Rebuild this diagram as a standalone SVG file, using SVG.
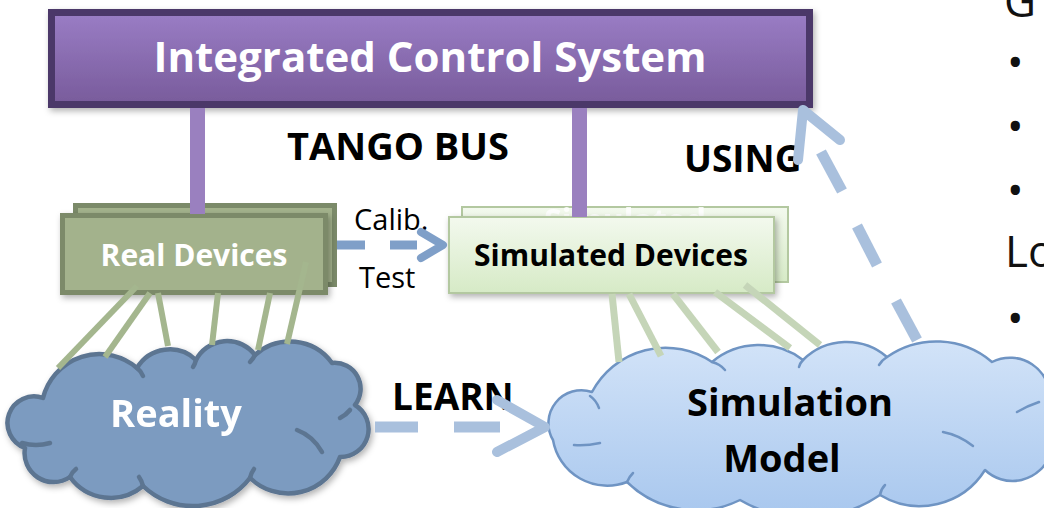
<svg xmlns="http://www.w3.org/2000/svg" width="1044" height="508" viewBox="0 0 1044 508">
  <defs>
    <linearGradient id="gPurple" x1="0" y1="0" x2="0" y2="1">
      <stop offset="0" stop-color="#9a7dc5"/>
      <stop offset="1" stop-color="#785b9b"/>
    </linearGradient>
    <linearGradient id="gSim" x1="0" y1="0" x2="0" y2="1">
      <stop offset="0" stop-color="#f3f9ee"/>
      <stop offset="1" stop-color="#d6eac6"/>
    </linearGradient>
    <linearGradient id="gCloud" x1="0" y1="0" x2="0" y2="1">
      <stop offset="0" stop-color="#d2e3f8"/>
      <stop offset="1" stop-color="#a8c7ee"/>
    </linearGradient>
    <filter id="shadow" x="-10%" y="-10%" width="130%" height="140%">
      <feDropShadow dx="2" dy="3" stdDeviation="3" flood-color="#000" flood-opacity="0.3"/>
    </filter>
  </defs>
  <style>
    .bold { font-family: "Open Sans", "Liberation Sans", sans-serif; font-weight: 700; }
    .reg { font-family: "Open Sans", "Liberation Sans", sans-serif; font-weight: 400; }
    .real { fill: #a3b28c; stroke: #7b8a69; stroke-width: 5; }
    .sim { fill: url(#gSim); stroke: #b3c8a0; stroke-width: 2; }
    .bus { fill: #9a80bf; }
    .tieReal { stroke: #a4b68e; stroke-width: 6; fill: none; }
    .tieSim { stroke: #c5d5b8; stroke-width: 7; fill: none; }
    .dashA { stroke: #7f9fc8; stroke-width: 9; fill: none; }
    .dashB { stroke: #a9c0dd; stroke-width: 11; fill: none; }
    .chevA { stroke: #7f9fc8; stroke-width: 8; fill: none; stroke-linecap: round; stroke-linejoin: round; }
    .chevB { stroke: #a9c0dd; stroke-width: 10; fill: none; stroke-linecap: round; stroke-linejoin: round; }
    .crease { fill: none; stroke-linecap: round; }
  </style>

  <rect width="1044" height="508" fill="#ffffff"/>

  <!-- top controller box -->
  <g id="ics">
    <rect x="51.5" y="12.5" width="758" height="92" fill="url(#gPurple)" stroke="#4b3969" stroke-width="7" filter="url(#shadow)"/>
    <text x="430" y="72" text-anchor="middle" class="bold" font-size="42" fill="#ffffff">Integrated Control System</text>
  </g>

  <!-- hardware device stack -->
  <g id="real-devices">
    <rect x="75.5" y="205.5" width="259" height="79" class="real"/>
    <rect x="62.5" y="215.5" width="263" height="77" class="real" filter="url(#shadow)"/>
    <text x="194" y="266" text-anchor="middle" class="bold" font-size="30" fill="#ffffff">Real Devices</text>
  </g>

  <!-- simulated device stack -->
  <g id="simulated-devices">
    <rect x="462" y="207" width="326" height="75" class="sim"/>
    <text x="625" y="232" text-anchor="middle" class="bold" font-size="32" fill="#ffffff" opacity="0.85">Simulated</text>
    <rect x="449" y="217" width="325" height="76" class="sim" filter="url(#shadow)"/>
    <text x="611" y="266" text-anchor="middle" class="bold" font-size="30" fill="#000000">Simulated Devices</text>
  </g>

  <!-- physical world cloud -->
  <g id="reality" filter="url(#shadow)">
    <path d="M43,398 A58,58 0 0 1 137,368 A38,38 0 0 1 196,360 A35,35 0 0 1 255,355 A52,52 0 0 1 332,363 A26,26 0 0 1 355,405 A28,28 0 0 1 340,457 A55,55 0 0 1 250,478 A72,72 0 0 1 143,486 A50,50 0 0 1 70,477 A29,29 0 0 1 25,448 A26,26 0 0 1 43,398 Z" fill="#7b9bc0" stroke="#5c7491" stroke-width="4.5" stroke-linejoin="round"/>
    <g class="crease" stroke="#5c7491" stroke-width="4.5">
      <path d="M22,443 Q36,447 50,443"/>
      <path d="M297,430 Q313,436 322,452"/>
      <path d="M137,368 q4,3 6,8"/>
      <path d="M196,360 q-1,4 -3,7"/>
      <path d="M255,355 q-2,4 -5,7"/>
      <path d="M350,410 q-4,5 -10,8"/>
      <path d="M70,477 q2,-5 6,-8"/>
      <path d="M143,486 q-1,-5 -4,-9"/>
      <path d="M250,478 q1,-5 4,-9"/>
    </g>
    <text x="176" y="427" text-anchor="middle" class="bold" font-size="38" fill="#ffffff">Reality</text>
  </g>

  <!-- model cloud -->
  <g id="simulation-model">
    <path d="M592,392 A83,83 0 0 1 712,362 A73,73 0 0 1 803,360 A62,62 0 0 1 887,357 A86,86 0 0 1 992,362 A40,40 0 0 1 1050,400 A35,35 0 0 1 1050,455 A40,40 0 0 1 985,470 A77,77 0 0 1 880,495 A132,132 0 0 1 740,500 A99,99 0 0 1 627,482 A55,55 0 0 1 553,440 A33,33 0 0 1 592,392 Z" fill="url(#gCloud)" stroke="#6f94c3" stroke-width="2.5" stroke-linejoin="round"/>
    <g class="crease" stroke="#6f94c3" stroke-width="2.5">
      <path d="M590,396 q6,4 9,12"/>
      <path d="M712,362 q8,2 13,8"/>
      <path d="M803,360 q-3,3 -4,7"/>
      <path d="M887,357 q-5,3 -8,8"/>
      <path d="M1017,412 q10,-6 22,-10"/>
      <path d="M943,432 q16,3 30,14"/>
      <path d="M600,443 q-14,3 -26,2"/>
      <path d="M627,482 q2,-5 6,-9"/>
      <path d="M880,495 q1,-6 5,-10"/>
    </g>
    <text x="790" y="416" text-anchor="middle" class="bold" font-size="38" fill="#000000">Simulation</text>
    <text x="782" y="472" text-anchor="middle" class="bold" font-size="38" fill="#000000">Model</text>
  </g>

  <!-- connector labels -->
  <g id="labels">
    <text x="398" y="160" text-anchor="middle" class="bold" font-size="38" fill="#000000">TANGO BUS</text>
    <text x="684" y="172" class="bold" font-size="37" fill="#000000">USING</text>
    <text x="392" y="410" class="bold" font-size="37" fill="#000000">LEARN</text>
    <text x="354" y="230" class="reg" font-size="29" fill="#000000">Calib.</text>
    <text x="359" y="288" class="reg" font-size="29" fill="#000000">Test</text>
  </g>

  <!-- connectors -->
  <g id="connectors">
    <!-- bus drops -->
    <rect x="190" y="108" width="15" height="106" class="bus"/>
    <rect x="572" y="108" width="15" height="109" class="bus"/>

    <!-- device-to-reality ties -->
    <line x1="137" y1="286" x2="58" y2="368" class="tieReal"/>
    <line x1="150" y1="293" x2="105" y2="357" class="tieReal"/>
    <line x1="158" y1="293" x2="168" y2="346" class="tieReal"/>
    <line x1="218" y1="293" x2="212" y2="345" class="tieReal"/>
    <line x1="270" y1="293" x2="258" y2="350" class="tieReal"/>
    <line x1="306" y1="262" x2="287" y2="344" class="tieReal"/>

    <!-- device-to-model ties -->
    <line x1="612" y1="294" x2="619" y2="362" class="tieSim"/>
    <line x1="629" y1="294" x2="661" y2="356" class="tieSim"/>
    <line x1="673" y1="294" x2="718" y2="352" class="tieSim"/>
    <line x1="715" y1="292" x2="790" y2="348" class="tieSim"/>
    <line x1="745" y1="285" x2="820" y2="345" class="tieSim"/>

    <!-- calibration / test -->
    <line x1="337" y1="245" x2="365" y2="245" class="dashA"/>
    <line x1="390" y1="245" x2="417" y2="245" class="dashA"/>
    <polyline points="421,232 443,245 421,258" class="chevA"/>

    <!-- learning -->
    <line x1="375" y1="427" x2="418" y2="427" class="dashB"/>
    <line x1="454" y1="427" x2="500" y2="427" class="dashB"/>
    <polyline points="497,400 545,427 497,452" class="chevB"/>

    <!-- model used by the controller -->
    <line x1="917" y1="340" x2="896" y2="301" class="dashB"/>
    <line x1="877" y1="265" x2="857" y2="226" class="dashB"/>
    <line x1="842" y1="191" x2="821" y2="152" class="dashB"/>
    <polyline points="840,140 803,110 798,160" class="chevB"/>
  </g>

  <!-- side text -->
  <g id="side-text" class="reg" font-size="44" fill="#111111">
    <text x="1004" y="17">G</text>
    <text x="1007" y="78">•</text>
    <text x="1007" y="142">•</text>
    <text x="1007" y="206">•</text>
    <text x="1005" y="267">Lo</text>
    <text x="1007" y="334">•</text>
  </g>
</svg>
